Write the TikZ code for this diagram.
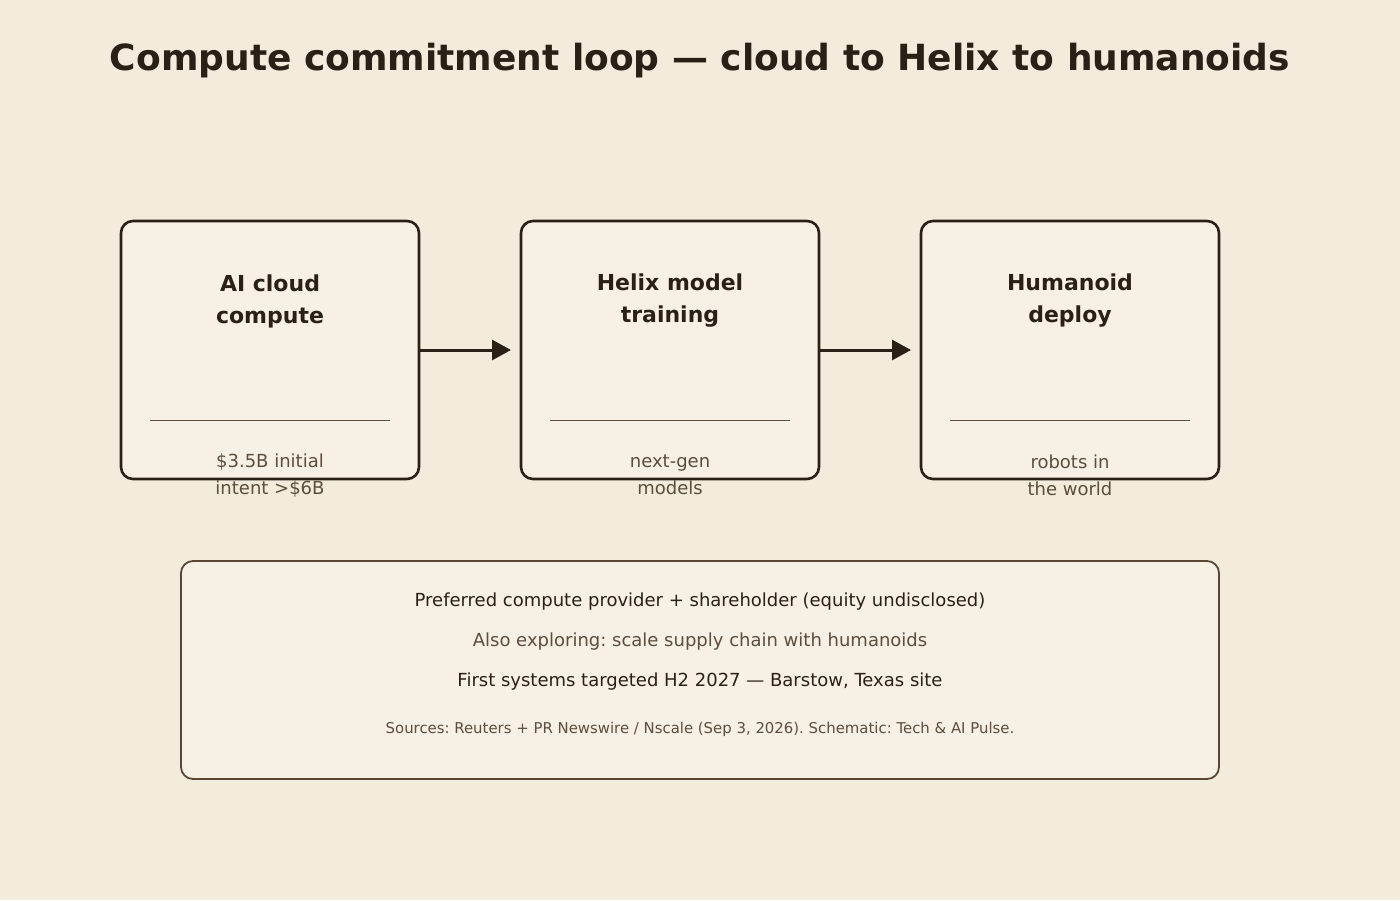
\documentclass[tikz,border=0pt]{standalone}
\usepackage{fontspec}
\setmainfont{DejaVu Sans}
\usetikzlibrary{arrows.meta}
\frenchspacing
\definecolor{bg}{HTML}{F3ECDC}
\definecolor{boxfill}{HTML}{F7F1E5}
\definecolor{ink}{HTML}{2A2116}
\definecolor{muted}{HTML}{5C4D3C}
\definecolor{frame}{HTML}{5A4835}
\tikzset{
  stage/.style={draw=ink, line width=2.6pt, fill=boxfill, rounded corners=12pt, minimum width=298pt, minimum height=258pt, inner sep=0pt},
  stitle/.style={font=\fontsize{22}{32}\selectfont\bfseries, text=ink, align=center},
  ssub/.style={font=\fontsize{18}{27}\selectfont, text=muted, align=center},
  flow/.style={draw=ink, line width=3pt, -{Triangle[length=19pt,width=20pt]}},
  divider/.style={draw=muted, line width=0.6pt},
  line/.style={font=\fontsize{18}{20}\selectfont, text=ink},
}
\begin{document}
\begin{tikzpicture}[x=1pt,y=-1pt]
\useasboundingbox (0,0) rectangle (1400,900);
\fill[bg] (0,0) rectangle (1400,900);
\node[font=\fontsize{36}{40}\selectfont\bfseries, text=ink] (title) at (700,61) {Compute commitment loop — cloud to Helix to humanoids};

\node[stage] (b1) at (270,350) {};
\node[stage] (b2) at (670,350) {};
\node[stage] (b3) at (1070,350) {};

\node[stitle] (t1) at (270,301) {AI cloud\\compute};
\node[stitle] (t2) at (670,301) {Helix model\\training};
\node[stitle] (t3) at (1070,301) {Humanoid\\deploy};

\draw[divider] (150,420) -- (390,420);
\draw[divider] (550,420) -- (790,420);
\draw[divider] (950,420) -- (1190,420);

\node[ssub] (s1) at (270,475) {\$3.5B initial\\intent >\$6B};
\node[ssub] (s2) at (670,475) {next-gen\\models};
\node[ssub] (s3) at (1070,475) {robots in\\the world};

\coordinate (a1e) at (511,350);
\coordinate (a2e) at (911,350);
\draw[flow] (b1.east) -- (a1e);
\draw[flow] (b2.east) -- (a2e);

\draw[draw=frame, line width=1.8pt, fill=boxfill, rounded corners=12pt] (181,561) rectangle (1219,779);
\node[line] (l1) at (700,602) {Preferred compute provider + shareholder (equity undisclosed)};
\node[line, text=muted] (l2) at (700,642) {Also exploring: scale supply chain with humanoids};
\node[line] (l3) at (700,682) {First systems targeted H2 2027 — Barstow, Texas site};
\node[font=\fontsize{14.9}{17}\selectfont, text=muted] (src) at (700,729) {Sources: Reuters + PR Newswire / Nscale (Sep 3, 2026). Schematic: Tech \& AI Pulse.};
\end{tikzpicture}
\end{document}
